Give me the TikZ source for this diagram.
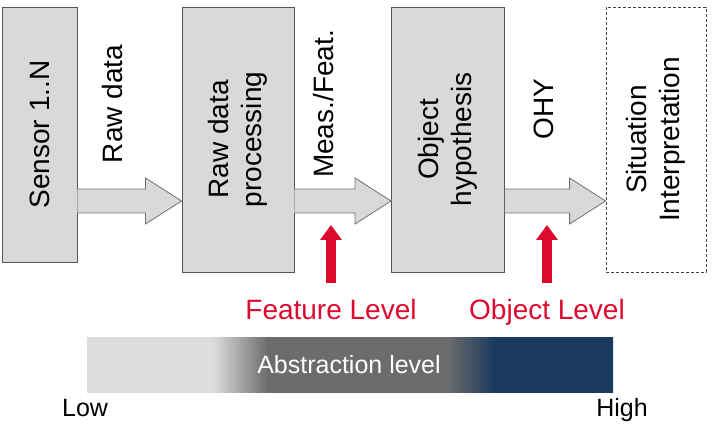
\documentclass[tikz,border=0pt]{standalone}
\usepackage{fontspec}
\setmainfont{Liberation Sans}
\usetikzlibrary{arrows.meta,calc}
\definecolor{boxgray}{HTML}{D9D9D9}
\definecolor{edgegray}{HTML}{555555}
\definecolor{arrowedge}{HTML}{707070}
\definecolor{levelred}{HTML}{DC0A2D}
\definecolor{barlight}{HTML}{DCDCDC}
\definecolor{bardark}{HTML}{6C6C6C}
\definecolor{barnavy}{HTML}{1B3A5F}
\pgfdeclarehorizontalshading{abstraction}{100bp}{%
  color(0bp)=(barlight); color(25bp)=(barlight); color(37bp)=(barlight);
  color(42.2bp)=(bardark); color(59.3bp)=(bardark); color(63.7bp)=(barnavy);
  color(75bp)=(barnavy); color(100bp)=(barnavy)}
\tikzset{
  stagebox/.style={draw=edgegray,fill=boxgray,line width=0.9pt,inner sep=0pt},
  dashbox/.style={draw=black!75,dash pattern=on 3pt off 2pt,line width=0.8pt,inner sep=0pt},
  boxtext/.style={rotate=90,align=center,inner sep=0pt,font=\fontsize{28}{33}\selectfont},
  flowtext/.style={rotate=90,inner sep=0pt,anchor=base,font=\fontsize{28}{33}\selectfont},
  blockarrow/.style={draw=arrowedge,fill=boxgray,line width=0.8pt,line join=miter},
  redarrow/.style={draw=levelred,line width=10pt,-{Triangle[width=21pt,length=15pt]}},
  leveltext/.style={text=levelred,inner sep=0pt,anchor=base,font=\fontsize{28}{33}\selectfont},
  scaletext/.style={inner sep=0pt,font=\fontsize{25}{30}\selectfont}
}
\begin{document}
\begin{tikzpicture}[x=1pt,y=-1pt]
\useasboundingbox (0,0) rectangle (713,430);
% stage boxes
\node[stagebox,minimum width=75pt,minimum height=255pt] (sensor) at (39.5,134.5) {};
\node[stagebox,minimum width=112pt,minimum height=265pt] (rdp) at (238,139.5) {};
\node[stagebox,minimum width=113pt,minimum height=265pt] (oh) at (448,139.5) {};
\node[dashbox,minimum width=100pt,minimum height=265pt] (si) at (656,139.5) {};
\node[boxtext] (sensorT) at (sensor.center) {Sensor 1..N};
\node[boxtext] (rdpT) at (rdp.center) {Raw data\\processing};
\node[boxtext] (ohT) at (oh.center) {Object\\hypothesis};
\node[boxtext] (siT) at (si.center) {Situation\\Interpretation};
% block arrows
\foreach \a/\b in {sensor/rdp, rdp/oh, oh/si}{
  \coordinate (s) at (\a.east |- 0,201);
  \coordinate (t) at (\b.west |- 0,201);
  \draw[blockarrow] ($(s)+(0,-12)$) -- ($(t)+(-36,-12)$) -- ($(t)+(-36,-23)$) -- (t)
     -- ($(t)+(-36,23)$) -- ($(t)+(-36,12)$) -- ($(s)+(0,12)$);
}
% flow labels
\node[flowtext] (l1) at (122,104) {Raw data};
\node[flowtext] (l2) at (333,104) {Meas./Feat.};
\node[flowtext] (l3) at (553,109) {OHY};
% level markers
\node[leveltext] (feat) at (331,320) {Feature Level};
\node[leveltext] (obj) at (547,320) {Object Level};
\coordinate (fb) at (331,283);
\coordinate (ft) at (331,225);
\coordinate (ob) at (547,283);
\coordinate (ot) at (547,225);
\draw[redarrow] (fb) -- (ft);
\draw[redarrow] (ob) -- (ot);
% abstraction bar
\shade[shading=abstraction] (87,338) rectangle (613,393);
\node[scaletext,text=white,anchor=base] (abs) at (349,374) {Abstraction level};
\node[scaletext,anchor=base west] (low) at (62,417) {Low};
\node[scaletext,anchor=base east] (high) at (648,417) {High};
\end{tikzpicture}
\end{document}
